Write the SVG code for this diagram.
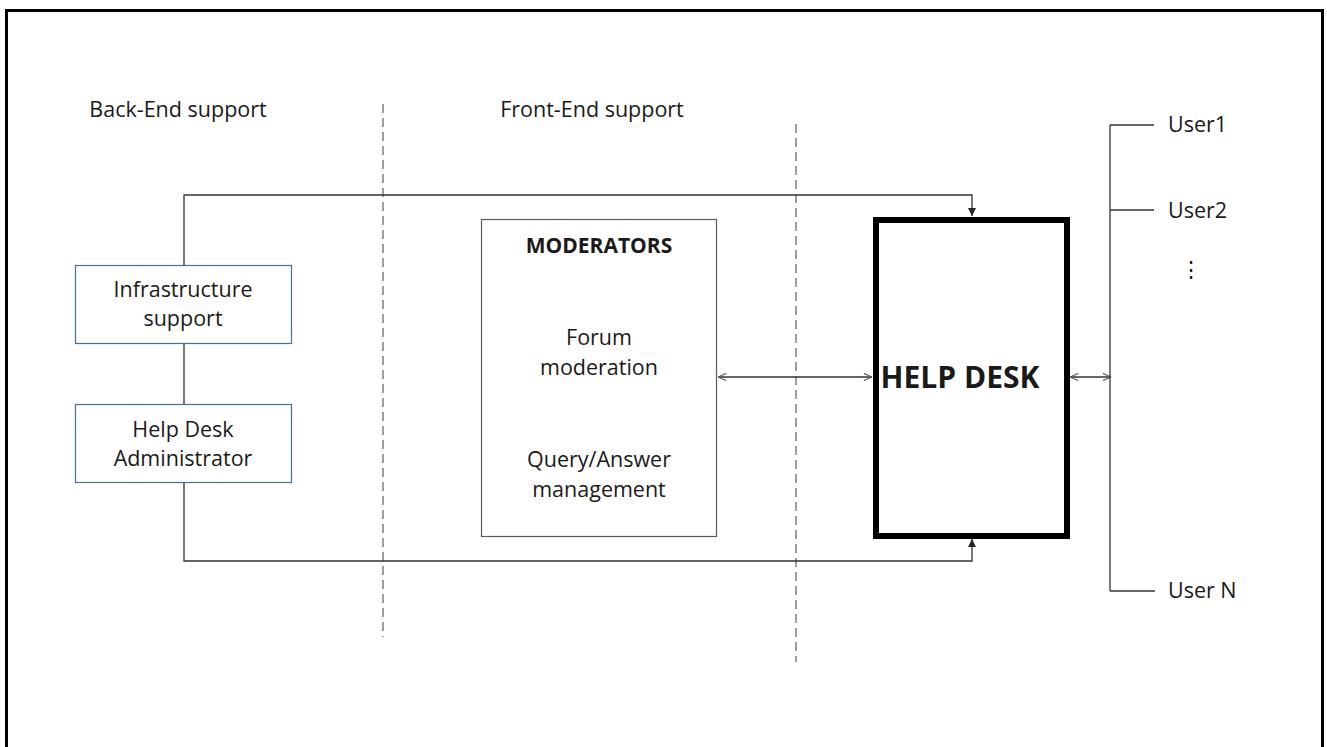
<svg xmlns="http://www.w3.org/2000/svg" width="1327" height="747" viewBox="0 0 1327 747">
<style>
.t{font-family:"Open Sans","Liberation Sans",sans-serif;font-size:21.5px;fill:#1a1a1a;text-anchor:middle}
.l{text-anchor:start}
.b{font-weight:bold}
.box{fill:#fff;stroke:#41719c;stroke-width:1.2}
.c{fill:none;stroke:#333;stroke-width:1.3}
.dash{fill:none;stroke:#7f7f7f;stroke-width:1.5;stroke-dasharray:9 5}
</style>
<defs>
<marker id="tri" viewBox="0 0 10 10" refX="10" refY="5" markerWidth="8" markerHeight="8" markerUnits="userSpaceOnUse" orient="auto-start-reverse">
<path d="M0,0 L10,5 L0,10 z" fill="#222"/>
</marker>
<marker id="v" viewBox="0 0 10 10" refX="10" refY="5" markerWidth="9" markerHeight="9" markerUnits="userSpaceOnUse" orient="auto-start-reverse">
<path d="M1,1 L10,5 L1,9" fill="none" stroke="#555" stroke-width="1.2"/>
</marker>
</defs>
<rect x="0" y="0" width="1327" height="747" fill="#fff"/>
<rect x="6.5" y="10.5" width="1316" height="760" fill="none" stroke="#000" stroke-width="3"/>

<g id="labels">
<text class="t" x="178" y="117">Back-End support</text>
<text class="t" x="592" y="117">Front-End support</text>
</g>

<g id="dividers">
<line class="dash" x1="383" y1="104" x2="383" y2="637"/>
<line class="dash" x1="796" y1="124" x2="796" y2="662"/>
</g>

<g id="connectors">
<polyline class="c" points="184,265 184,195 972,195 972,216" marker-end="url(#tri)"/>
<line class="c" x1="184" y1="343" x2="184" y2="404"/>
<polyline class="c" points="184,482 184,561 972,561 972,539" marker-end="url(#tri)"/>
<line class="c" x1="718" y1="377" x2="872" y2="377" stroke="#666" marker-start="url(#v)" marker-end="url(#v)"/>
<line class="c" x1="1070" y1="377" x2="1111" y2="377" stroke="#666" marker-start="url(#v)" marker-end="url(#v)"/>
<line class="c" x1="1110" y1="125" x2="1110" y2="591" stroke="#000"/>
<line class="c" x1="1110" y1="125" x2="1154" y2="125" stroke="#000"/>
<line class="c" x1="1110" y1="210" x2="1154" y2="210" stroke="#000"/>
<line class="c" x1="1110" y1="591" x2="1155" y2="591" stroke="#000"/>
</g>

<g id="infra">
<rect class="box" x="75.5" y="265.5" width="216" height="78"/>
<text class="t" x="183" y="297">Infrastructure</text>
<text class="t" x="183" y="326">support</text>
</g>

<g id="admin">
<rect class="box" x="75.5" y="404.5" width="216" height="78"/>
<text class="t" x="183" y="437">Help Desk</text>
<text class="t" x="183" y="466">Administrator</text>
</g>

<g id="moderators">
<rect x="481.5" y="219.5" width="235" height="317" fill="#fff" stroke="#595959" stroke-width="1.2"/>
<text class="t b" x="599" y="253" style="font-size:21px">MODERATORS</text>
<text class="t" x="599" y="345">Forum</text>
<text class="t" x="599" y="375">moderation</text>
<text class="t" x="599" y="467">Query/Answer</text>
<text class="t" x="599" y="497">management</text>
</g>

<g id="helpdesk">
<rect x="876" y="220" width="191" height="316" fill="#fff" stroke="#000" stroke-width="6"/>
<text class="t b" x="960" y="388" style="font-size:30px">HELP DESK</text>
</g>

<g id="users">
<text class="t l" x="1168" y="132">User1</text>
<text class="t l" x="1168" y="218">User2</text>
<text class="t" x="1191" y="277">⋮</text>
<text class="t l" x="1168" y="598">User N</text>
</g>
</svg>
